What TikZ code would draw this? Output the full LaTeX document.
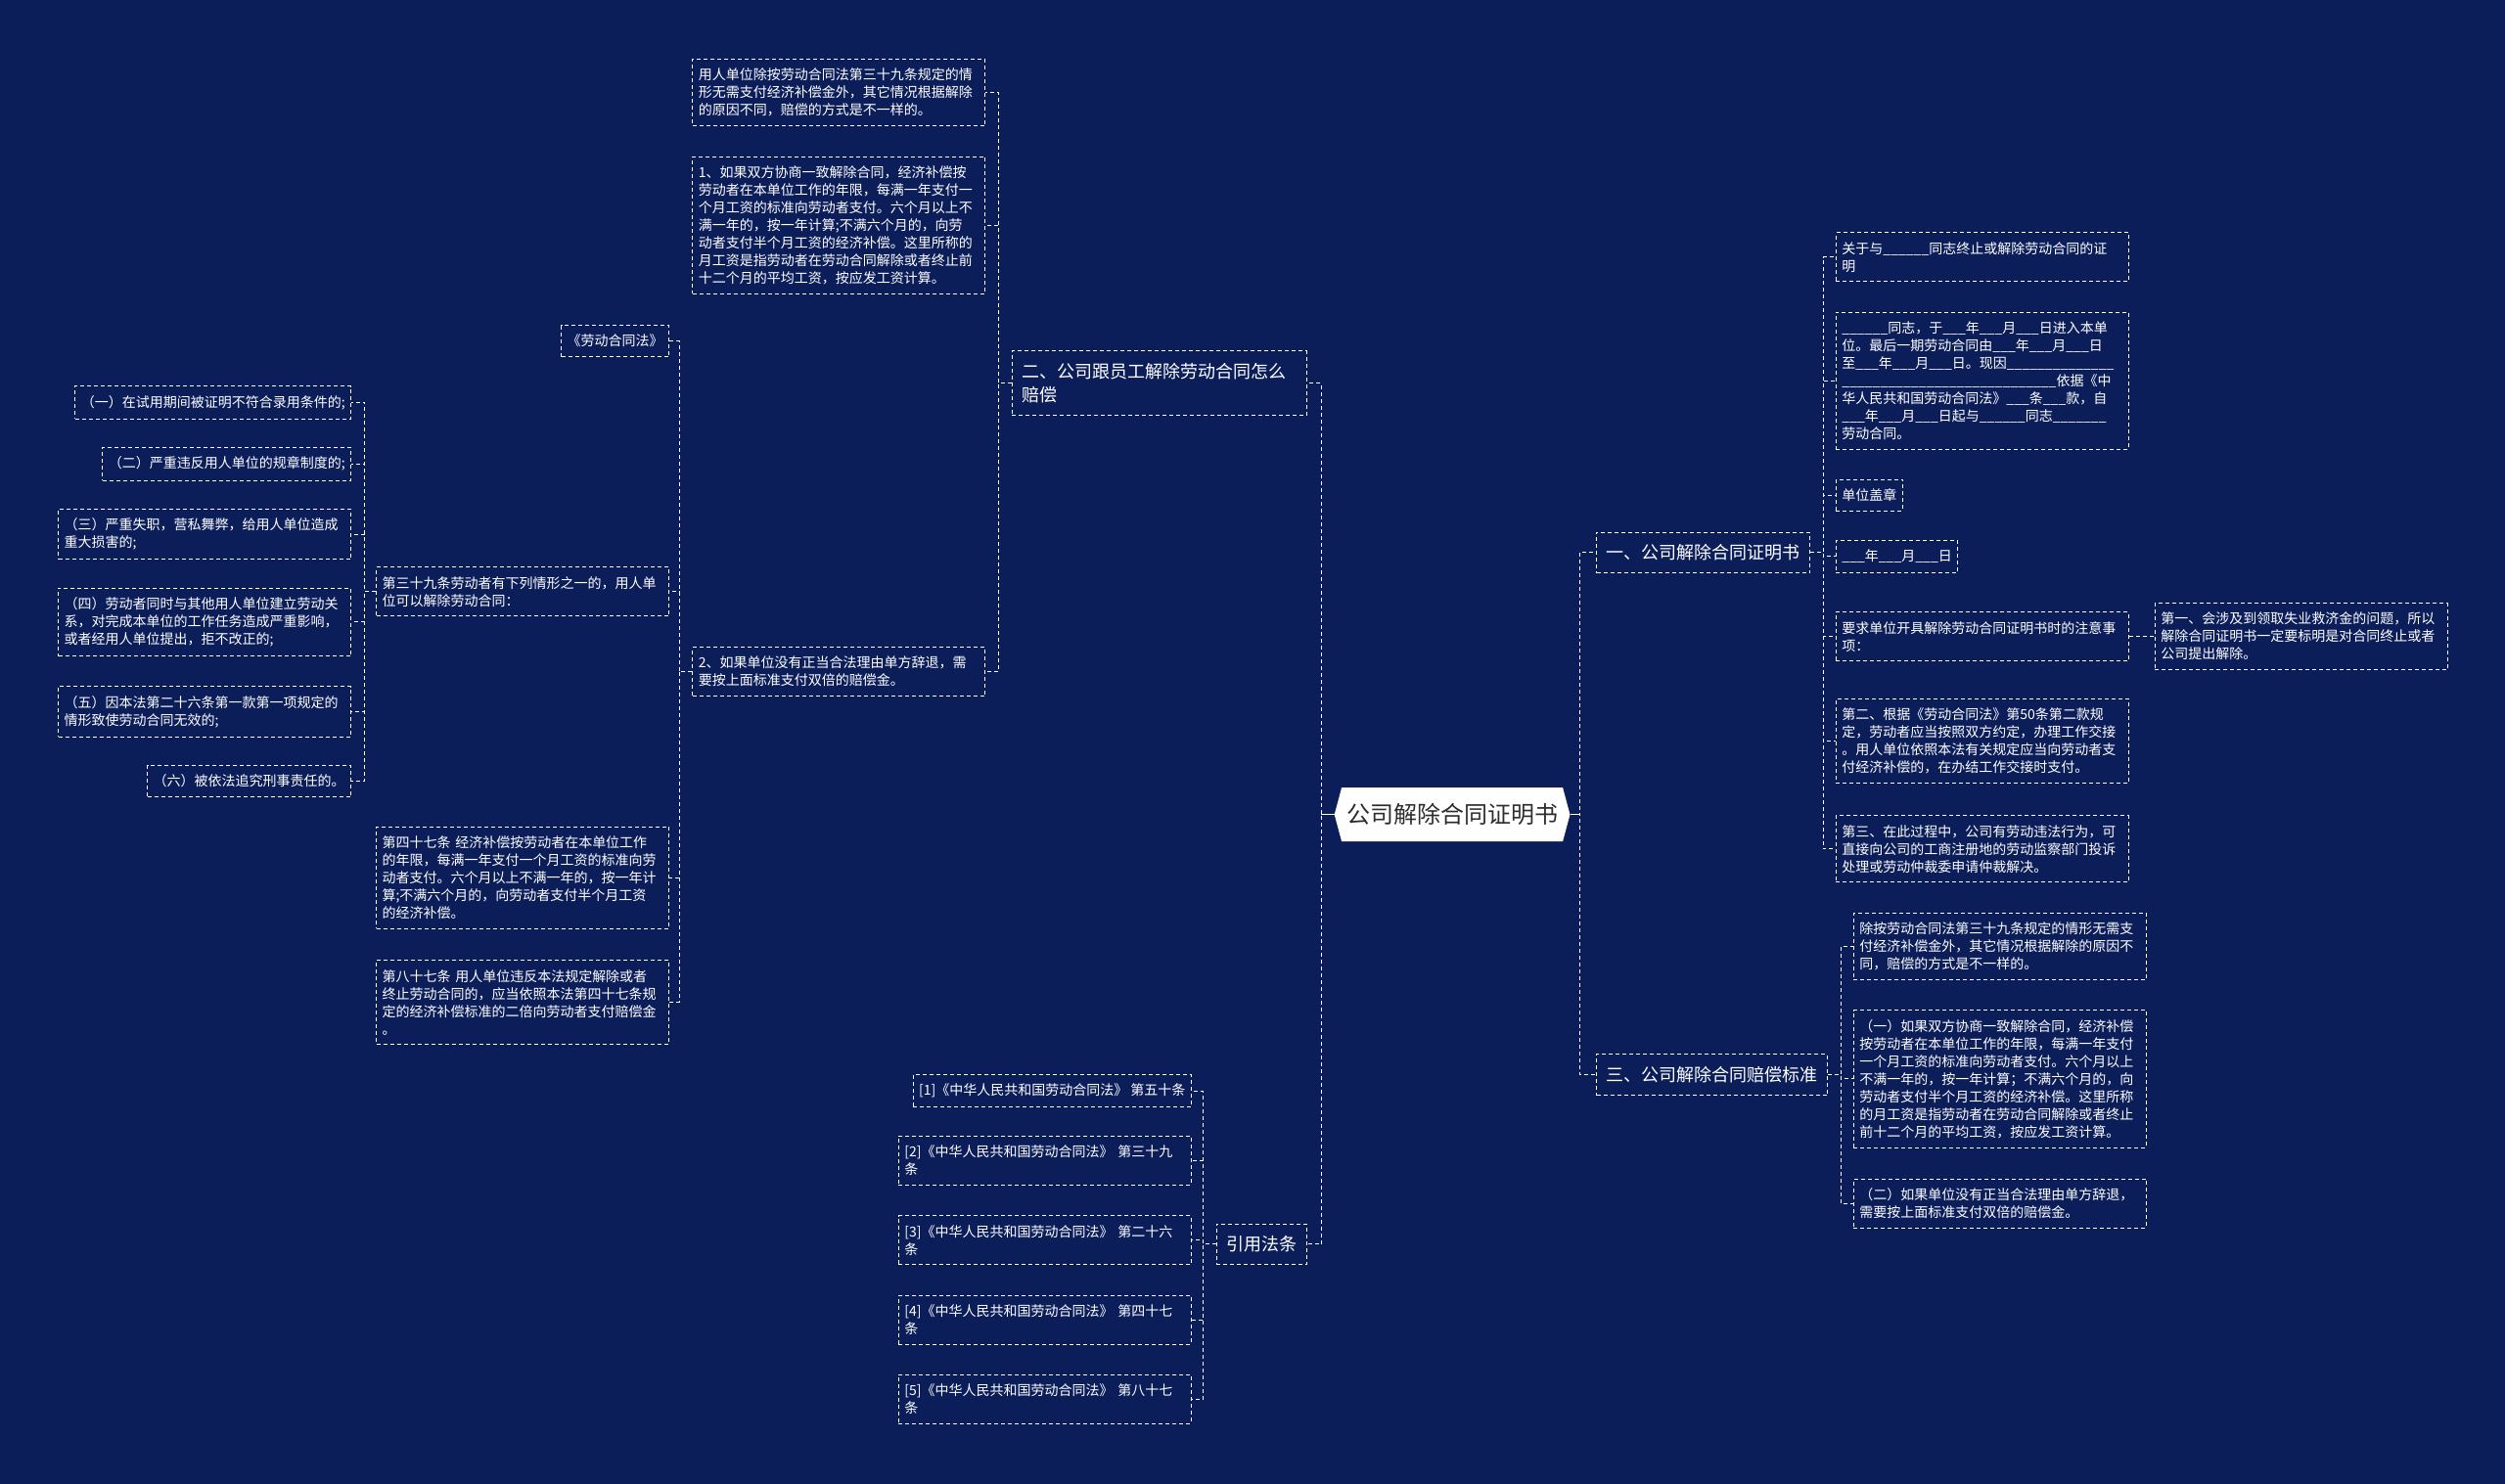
\documentclass[tikz,border=0pt]{standalone}
\usepackage{fontspec}
\setmainfont{Noto Sans CJK SC}
\usepackage{tikz}
\usetikzlibrary{positioning,shapes.symbols}
\definecolor{bgNavy}{RGB}{12,30,90}
\definecolor{hubText}{RGB}{45,45,45}

\begin{document}
\begin{tikzpicture}[
        x=1.6327pt, y=-1.6327pt,
        hub/.style={signal, signal to=west and east, signal pointer angle=150, fill=white, text=hubText, font=\fontsize{24}{28}\selectfont, minimum height=55pt, inner xsep=5pt},
        topic/.style={draw=white, line width=1pt, dash pattern=on 4pt off 3pt, text=white, align=left, font=\fontsize{18}{24.5}\selectfont, inner xsep=10pt, inner ysep=12.5pt},
        leaf/.style={draw=white, line width=1pt, dash pattern=on 4pt off 3pt, text=white, align=left, font=\fontsize{14}{18}\selectfont, inner xsep=6pt, inner ysep=9.5pt},
        wide/.style={leaf, text width=287pt},
        link/.style={draw=white, line width=1pt, dash pattern=on 4pt off 3pt},
        stub/.style={draw=white, line width=1.4pt}
    ]
    \useasboundingbox (0,0) rectangle (1568,929);
    \fill[bgNavy] (0,0) rectangle (1568,929);

    % centre
    \node[hub] (hub) at (909,510) {公司解除合同证明书};

    % first level
    \node[topic, anchor=west] (r1) at (999,346) {一、公司解除合同证明书};
    \node[topic, anchor=west] (r3) at (999,673) {三、公司解除合同赔偿标准};
    \node[topic, anchor=east, text width=281pt] (l2) at (818,240) {二、公司跟员工解除劳动合同怎么\\赔偿};
    \node[topic, anchor=east] (lref) at (818,779) {引用法条};

    % right: certificate
    \node[wide, anchor=west] (c1) at (1149,161) {关于与\_\_\_\_\_\_同志终止或解除劳动合同的证\\明};
    \node[wide, anchor=west] (c2) at (1149,238.5) {\_\_\_\_\_\_同志，于\_\_\_年\_\_\_月\_\_\_日进入本单\\位。最后一期劳动合同由\_\_\_年\_\_\_月\_\_\_日\\至\_\_\_年\_\_\_月\_\_\_日。现因\_\_\_\_\_\_\_\_\_\_\_\_\_\_\\\_\_\_\_\_\_\_\_\_\_\_\_\_\_\_\_\_\_\_\_\_\_\_\_\_\_\_\_依据《中\\华人民共和国劳动合同法》\_\_\_条\_\_\_款，自\\\_\_\_年\_\_\_月\_\_\_日起与\_\_\_\_\_\_同志\_\_\_\_\_\_\_\\劳动合同。};
    \node[leaf, anchor=west] (c3) at (1149,310) {单位盖章};
    \node[leaf, anchor=west] (c4) at (1149,348.5) {\_\_\_年\_\_\_月\_\_\_日};
    \node[wide, anchor=west] (c5) at (1149,398.5) {要求单位开具解除劳动合同证明书时的注意事\\项：};
    \node[wide, right=26pt of c5] (c5a) {第一、会涉及到领取失业救济金的问题，所以\\解除合同证明书一定要标明是对合同终止或者\\公司提出解除。};
    \node[wide, anchor=west] (c6) at (1149,464) {第二、根据《劳动合同法》第50条第二款规\\定，劳动者应当按照双方约定，办理工作交接\\。用人单位依照本法有关规定应当向劳动者支\\付经济补偿的，在办结工作交接时支付。};
    \node[wide, anchor=west] (c7) at (1149,531.5) {第三、在此过程中，公司有劳动违法行为，可\\直接向公司的工商注册地的劳动监察部门投诉\\处理或劳动仲裁委申请仲裁解决。};

    % right: compensation standard
    \node[wide, anchor=west] (d1) at (1160,592.5) {除按劳动合同法第三十九条规定的情形无需支\\付经济补偿金外，其它情况根据解除的原因不\\同，赔偿的方式是不一样的。};
    \node[wide, anchor=west] (d2) at (1160,675.5) {（一）如果双方协商一致解除合同，经济补偿\\按劳动者在本单位工作的年限，每满一年支付\\一个月工资的标准向劳动者支付。六个月以上\\不满一年的，按一年计算；不满六个月的，向\\劳动者支付半个月工资的经济补偿。这里所称\\的月工资是指劳动者在劳动合同解除或者终止\\前十二个月的平均工资，按应发工资计算。};
    \node[wide, anchor=west] (d3) at (1160,753.5) {（二）如果单位没有正当合法理由单方辞退，\\需要按上面标准支付双倍的赔偿金。};

    % left: how to compensate
    \node[wide, anchor=east] (a1) at (617,58) {用人单位除按劳动合同法第三十九条规定的情\\形无需支付经济补偿金外，其它情况根据解除\\的原因不同，赔偿的方式是不一样的。};
    \node[wide, anchor=east] (a2) at (617,141) {1、如果双方协商一致解除合同，经济补偿按\\劳动者在本单位工作的年限，每满一年支付一\\个月工资的标准向劳动者支付。六个月以上不\\满一年的，按一年计算;不满六个月的，向劳\\动者支付半个月工资的经济补偿。这里所称的\\月工资是指劳动者在劳动合同解除或者终止前\\十二个月的平均工资，按应发工资计算。};
    \node[wide, anchor=east] (a3) at (617,420.5) {2、如果单位没有正当合法理由单方辞退，需\\要按上面标准支付双倍的赔偿金。};

    \node[leaf, anchor=east] (law) at (419,213.5) {《劳动合同法》};
    \node[wide, anchor=east] (art39) at (419,370.5) {第三十九条劳动者有下列情形之一的，用人单\\位可以解除劳动合同：};
    \node[wide, anchor=east] (art47) at (419,549.5) {第四十七条 经济补偿按劳动者在本单位工作\\的年限，每满一年支付一个月工资的标准向劳\\动者支付。六个月以上不满一年的，按一年计\\算;不满六个月的，向劳动者支付半个月工资\\的经济补偿。};
    \node[wide, anchor=east] (art87) at (419,627.5) {第八十七条 用人单位违反本法规定解除或者\\终止劳动合同的，应当依照本法第四十七条规\\定的经济补偿标准的二倍向劳动者支付赔偿金\\。};

    \node[leaf, anchor=east] (i1) at (220,252) {（一）在试用期间被证明不符合录用条件的;};
    \node[leaf, anchor=east] (i2) at (220,290.5) {（二）严重违反用人单位的规章制度的;};
    \node[wide, anchor=east] (i3) at (220,334.5) {（三）严重失职，营私舞弊，给用人单位造成\\重大损害的;};
    \node[wide, anchor=east] (i4) at (220,389.5) {（四）劳动者同时与其他用人单位建立劳动关\\系，对完成本单位的工作任务造成严重影响，\\或者经用人单位提出，拒不改正的;};
    \node[wide, anchor=east] (i5) at (220,445.5) {（五）因本法第二十六条第一款第一项规定的\\情形致使劳动合同无效的;};
    \node[leaf, anchor=east] (i6) at (220,489) {（六）被依法追究刑事责任的。};

    % left: cited articles
    \node[leaf, anchor=east] (ref1) at (746,683) {[1]《中华人民共和国劳动合同法》 第五十条};
    \node[wide, anchor=east] (ref2) at (746,726.5) {[2]《中华人民共和国劳动合同法》 第三十九\\条};
    \node[wide, anchor=east] (ref3) at (746,776.5) {[3]《中华人民共和国劳动合同法》 第二十六\\条};
    \node[wide, anchor=east] (ref4) at (746,826.5) {[4]《中华人民共和国劳动合同法》 第四十七\\条};
    \node[wide, anchor=east] (ref5) at (746,876) {[5]《中华人民共和国劳动合同法》 第八十七\\条};

    % connectors from the centre
    \draw[link] (hub.east) -- ++(6,0) |- (r1.west);
    \draw[link] (hub.east) -- ++(6,0) |- (r3.west);
    \draw[link] (hub.west) -- ++(-8,0) |- (l2.east);
    \draw[link] (hub.west) -- ++(-8,0) |- (lref.east);
    \draw[stub] (hub.east) -- ++(6,0);
    \draw[stub] (hub.west) -- ++(-8,0);

    \draw[link] (r1.east) -- ++(8,0) |- (c1.west);
    \draw[link] (r1.east) -- ++(8,0) |- (c2.west);
    \draw[link] (r1.east) -- ++(8,0) |- (c3.west);
    \draw[link] (r1.east) -- ++(8,0) |- (c4.west);
    \draw[link] (r1.east) -- ++(8,0) |- (c5.west);
    \draw[link] (r1.east) -- ++(8,0) |- (c6.west);
    \draw[link] (r1.east) -- ++(8,0) |- (c7.west);
    \draw[link] (c5.east) -- (c5a.west);

    \draw[link] (r3.east) -- ++(8,0) |- (d1.west);
    \draw[link] (r3.east) -- ++(8,0) |- (d2.west);
    \draw[link] (r3.east) -- ++(8,0) |- (d3.west);

    \draw[link] (l2.west) -- ++(-8,0) |- (a1.east);
    \draw[link] (l2.west) -- ++(-8,0) |- (a2.east);
    \draw[link] (l2.west) -- ++(-8,0) |- (a3.east);

    \draw[link] (a3.west) -- ++(-8,0) |- (law.east);
    \draw[link] (a3.west) -- ++(-8,0) |- (art39.east);
    \draw[link] (a3.west) -- ++(-8,0) |- (art47.east);
    \draw[link] (a3.west) -- ++(-8,0) |- (art87.east);

    \draw[link] (art39.west) -- ++(-7,0) |- (i1.east);
    \draw[link] (art39.west) -- ++(-7,0) |- (i2.east);
    \draw[link] (art39.west) -- ++(-7,0) |- (i3.east);
    \draw[link] (art39.west) -- ++(-7,0) |- (i4.east);
    \draw[link] (art39.west) -- ++(-7,0) |- (i5.east);
    \draw[link] (art39.west) -- ++(-7,0) |- (i6.east);

    \draw[link] (lref.west) -- ++(-8,0) |- (ref1.east);
    \draw[link] (lref.west) -- ++(-8,0) |- (ref2.east);
    \draw[link] (lref.west) -- ++(-8,0) |- (ref3.east);
    \draw[link] (lref.west) -- ++(-8,0) |- (ref4.east);
    \draw[link] (lref.west) -- ++(-8,0) |- (ref5.east);
\end{tikzpicture}
\end{document}
